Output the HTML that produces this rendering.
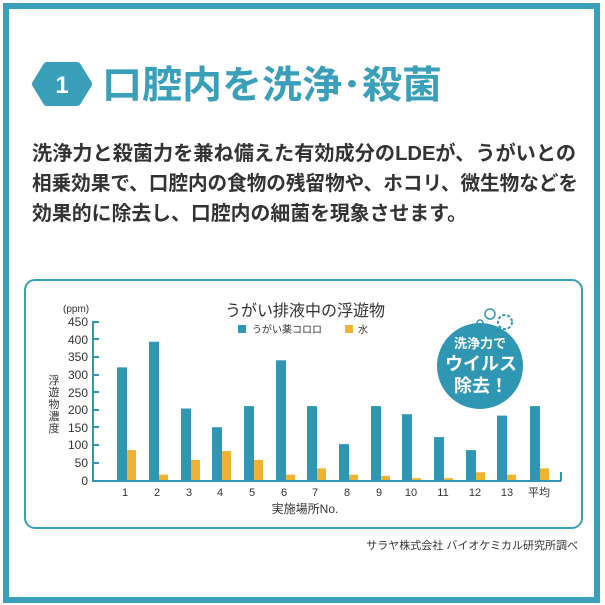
<!DOCTYPE html>
<html><head><meta charset="utf-8"><style>
html,body{margin:0;padding:0;background:#fff}
svg{display:block}
text{font-family:"Liberation Sans","Noto Sans CJK JP",sans-serif}
</style></head><body>
<svg width="605" height="605" viewBox="0 0 605 605" xmlns="http://www.w3.org/2000/svg">
<rect x="0" y="0" width="605" height="605" fill="#fff"/>
<rect x="6" y="6" width="591" height="594" fill="none" stroke="#3a9fb8" stroke-width="6"/>
<!-- heading -->
<polygon points="47,66 77,66 88,84 77,102 47,102 36,84" fill="#3a9fb8" stroke="#3a9fb8" stroke-width="8" stroke-linejoin="round"/>
<text x="62" y="93" text-anchor="middle" font-size="24" font-weight="bold" fill="#fff">1</text>
<text x="102" y="98" font-size="38" font-weight="bold" fill="#3a9fb8" textLength="340" lengthAdjust="spacingAndGlyphs" style="font-family:'Noto Sans CJK JP',sans-serif">口腔内を洗浄･殺菌</text>
<!-- body -->
<g font-size="20" font-weight="bold" fill="#333" style="font-family:'Liberation Sans','Noto Sans CJK JP',sans-serif">
<text x="32" y="160" textLength="544" lengthAdjust="spacingAndGlyphs">洗浄力と殺菌力を兼ね備えた有効成分のLDEが、うがいとの</text>
<text x="32" y="190" textLength="546" lengthAdjust="spacingAndGlyphs">相乗効果で、口腔内の食物の残留物や、ホコリ、微生物などを</text>
<text x="32" y="220" textLength="435" lengthAdjust="spacingAndGlyphs">効果的に除去し、口腔内の細菌を現象させます。</text>
</g>
<!-- chart box -->
<rect x="25" y="280" width="557" height="248" rx="10" fill="#fff" stroke="#3a9fb8" stroke-width="2"/>
<text x="305" y="316" text-anchor="middle" font-size="16" fill="#333">うがい排液中の浮遊物</text>
<rect x="238" y="325" width="8" height="8" fill="#2f97b3"/>
<text x="252" y="333" font-size="10" fill="#333">うがい薬コロロ</text>
<rect x="345" y="325" width="8" height="8" fill="#f0b230"/>
<text x="358" y="333" font-size="10" fill="#333">水</text>
<text x="63" y="312" font-size="10" fill="#333">(ppm)</text>
<g font-size="12" fill="#333" text-anchor="end">
<text x="88" y="326">450</text><text x="88" y="344">400</text><text x="88" y="361">350</text><text x="88" y="379">300</text><text x="88" y="397">250</text><text x="88" y="414">200</text><text x="88" y="432">150</text><text x="88" y="449">100</text><text x="88" y="467">50</text><text x="88" y="485">0</text>
</g>
<g font-size="11" fill="#333" text-anchor="middle">
<text x="54" y="384">浮</text><text x="54" y="396">遊</text><text x="54" y="408">物</text><text x="54" y="420">濃</text><text x="54" y="432">度</text>
</g>
<g stroke="#2f97b3" stroke-width="2">
<line x1="93" y1="321" x2="93" y2="481"/>
<line x1="92" y1="481" x2="561" y2="481"/>
<line x1="561" y1="481" x2="561" y2="472"/>
<line x1="93" y1="322" x2="99" y2="322"/><line x1="93" y1="339" x2="99" y2="339"/><line x1="93" y1="357" x2="99" y2="357"/><line x1="93" y1="375" x2="99" y2="375"/><line x1="93" y1="392" x2="99" y2="392"/><line x1="93" y1="410" x2="99" y2="410"/><line x1="93" y1="427" x2="99" y2="427"/><line x1="93" y1="445" x2="99" y2="445"/><line x1="93" y1="463" x2="99" y2="463"/>
</g>
<g fill="#2f97b3">
<rect x="117" y="367.4" width="10" height="112.6"/>
<rect x="149" y="341.7" width="10" height="138.3"/>
<rect x="181" y="408.5" width="10" height="71.5"/>
<rect x="212" y="427.2" width="10" height="52.8"/>
<rect x="244" y="406.1" width="10" height="73.9"/>
<rect x="276" y="360.3" width="10" height="119.7"/>
<rect x="307" y="406.1" width="10" height="73.9"/>
<rect x="339" y="444.1" width="10" height="35.9"/>
<rect x="371" y="406.1" width="10" height="73.9"/>
<rect x="402" y="414.2" width="10" height="65.8"/>
<rect x="434" y="437.1" width="10" height="42.9"/>
<rect x="466" y="450.1" width="10" height="29.9"/>
<rect x="497" y="415.6" width="10" height="64.4"/>
<rect x="530" y="406.1" width="10" height="73.9"/>
</g>
<g fill="#f0b230">
<rect x="127" y="450.1" width="9" height="29.9"/>
<rect x="159" y="474.7" width="9" height="5.3"/>
<rect x="191" y="459.9" width="9" height="20.1"/>
<rect x="222" y="451.1" width="9" height="28.9"/>
<rect x="254" y="459.9" width="9" height="20.1"/>
<rect x="286" y="474.7" width="9" height="5.3"/>
<rect x="317" y="468.4" width="9" height="11.6"/>
<rect x="349" y="474.7" width="9" height="5.3"/>
<rect x="381" y="475.8" width="9" height="4.2"/>
<rect x="412" y="478.2" width="9" height="1.8"/>
<rect x="444" y="478.2" width="9" height="1.8"/>
<rect x="476" y="472.3" width="9" height="7.7"/>
<rect x="507" y="474.7" width="9" height="5.3"/>
<rect x="540" y="468.4" width="9" height="11.6"/>
</g>
<g font-size="11" fill="#333" text-anchor="middle">
<text x="125" y="496">1</text><text x="157" y="496">2</text><text x="189" y="496">3</text><text x="220" y="496">4</text><text x="252" y="496">5</text><text x="284" y="496">6</text><text x="315" y="496">7</text><text x="347" y="496">8</text><text x="379" y="496">9</text><text x="411" y="496">10</text><text x="443" y="496">11</text><text x="475" y="496">12</text><text x="507" y="496">13</text><text x="539" y="496">平均</text>
</g>
<text x="305" y="513" text-anchor="middle" font-size="12" fill="#333">実施場所No.</text>
<!-- badge -->
<circle cx="480" cy="366" r="43" fill="#2f97b3"/>
<circle cx="480" cy="323" r="3" fill="none" stroke="#2f97b3" stroke-width="1.5"/>
<circle cx="490" cy="314" r="5" fill="none" stroke="#2f97b3" stroke-width="1.5"/>
<circle cx="505" cy="322" r="7" fill="#fff" stroke="#2f97b3" stroke-width="2" stroke-dasharray="3 2"/>
<text x="480" y="348" text-anchor="middle" font-size="13" font-weight="bold" fill="#fff">洗浄力で</text>
<text x="481" y="370" text-anchor="middle" font-size="18" font-weight="bold" fill="#fff">ウイルス</text>
<text x="481" y="392" text-anchor="middle" font-size="18" font-weight="bold" fill="#fff">除去！</text>
<text x="578" y="549" text-anchor="end" font-size="11" fill="#333">サラヤ株式会社 バイオケミカル研究所調べ</text>
</svg>
</body></html>
